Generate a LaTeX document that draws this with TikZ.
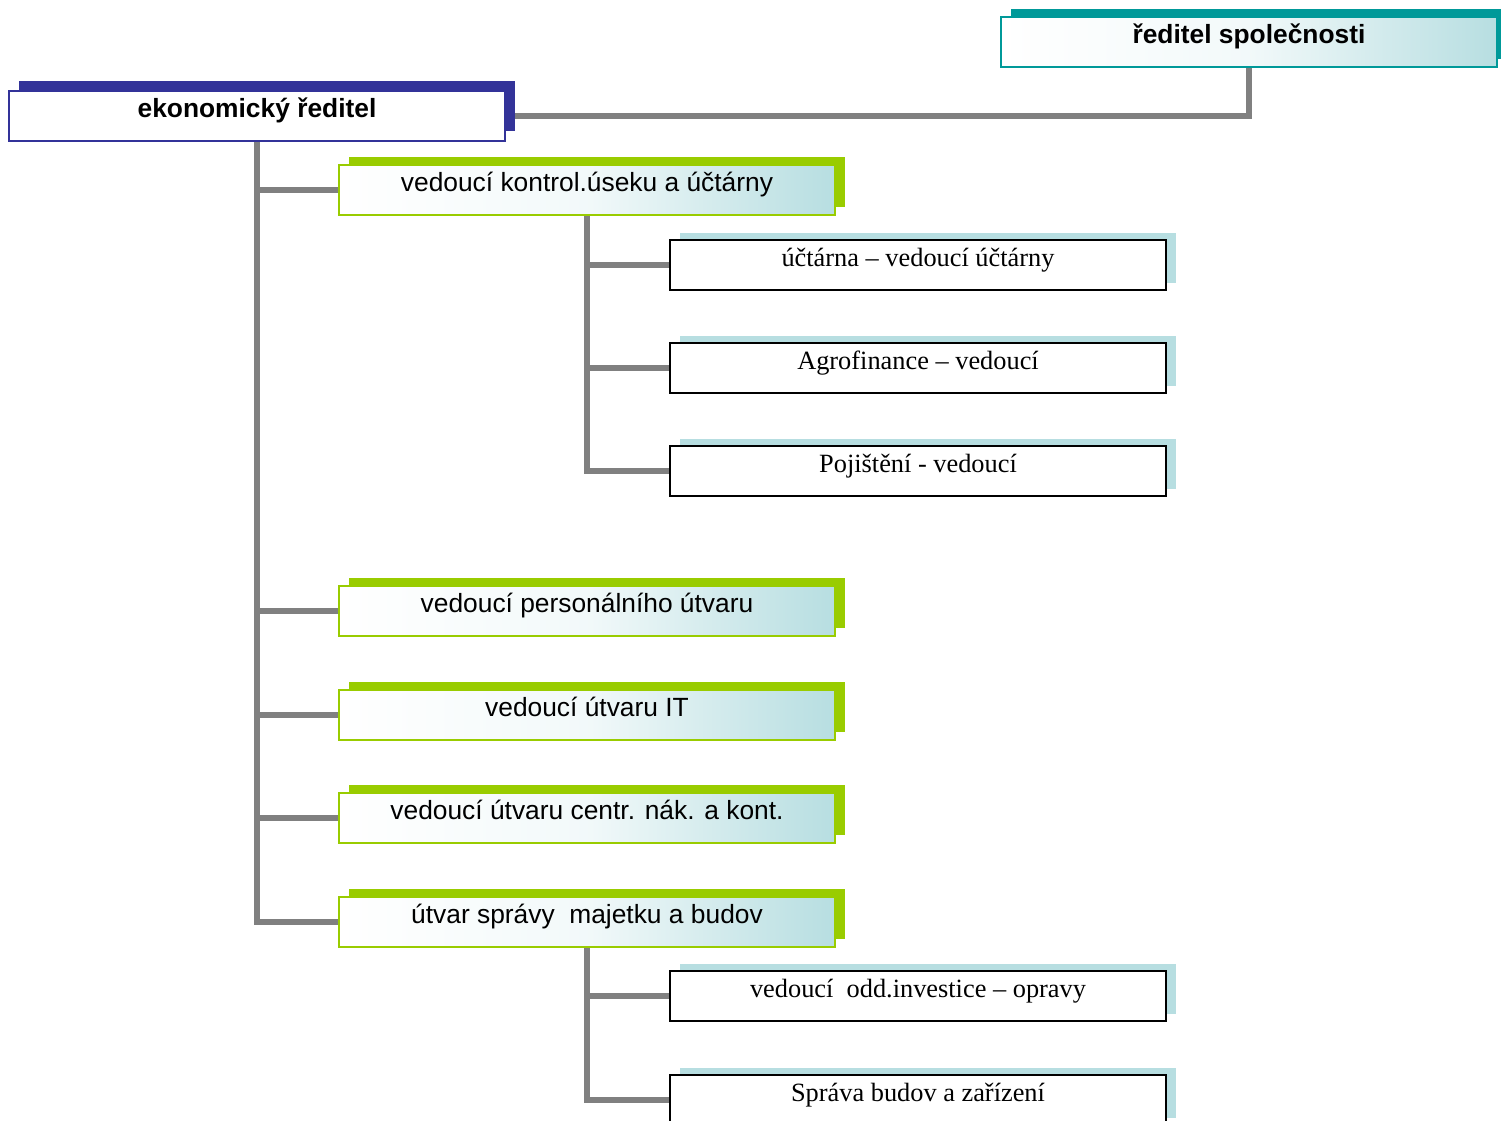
\documentclass[tikz,border=0pt]{standalone}
\usepackage{fontspec}
\setmainfont{Liberation Serif}
\setsansfont{Liberation Sans}
\usetikzlibrary{shadows,backgrounds}
\definecolor{tealc}{RGB}{0,153,153}
\definecolor{navyc}{RGB}{51,51,153}
\definecolor{limec}{RGB}{153,204,0}
\definecolor{paleblue}{RGB}{183,222,225}
\definecolor{linkgray}{RGB}{128,128,128}
\tikzstyle{box}=[rectangle,minimum width=9.92cm,minimum height=1cm,inner sep=0pt,text height=0.75em,text depth=0.62em]
\tikzstyle{boss}=[box,draw=tealc,line width=1pt,left color=white,right color=paleblue,middle color=white!82!paleblue,drop shadow={shadow xshift=0.2cm,shadow yshift=0.16cm,opacity=1,shade=false,fill=tealc},font=\fontsize{15pt}{18pt}\selectfont\sffamily\bfseries]
\tikzstyle{econ}=[box,draw=navyc,line width=1pt,fill=white,drop shadow={shadow xshift=0.2cm,shadow yshift=0.2cm,opacity=1,fill=navyc},font=\fontsize{15pt}{18pt}\selectfont\sffamily\bfseries]
\tikzstyle{dept}=[box,draw=limec,line width=1pt,left color=white,right color=paleblue,middle color=white!82!paleblue,drop shadow={shadow xshift=0.2cm,shadow yshift=0.16cm,opacity=1,shade=false,fill=limec},font=\fontsize{15pt}{18pt}\selectfont\sffamily]
\tikzstyle{unit}=[box,draw=black,line width=1.3pt,fill=white,drop shadow={shadow xshift=0.2cm,shadow yshift=0.14cm,opacity=1,fill=paleblue},font=\fontsize{15pt}{18pt}\selectfont]
\tikzstyle{link}=[draw=linkgray,line width=3.3pt]

\begin{document}
\begin{tikzpicture}[x=0.02cm,y=-0.02cm]
	\useasboundingbox (0,0) rectangle (1501,1120);
	\def \deptx {587};
	\def \unitx {918};

	\node[boss] (boss) at (1249,42) {ředitel společnosti};
	\node[econ] (econ) at (257,116) {ekonomický ředitel};

	\foreach \i/\ypos/\txt in {1/190/vedoucí kontrol.úseku a účtárny,
		2/611/vedoucí personálního útvaru,
		3/715/vedoucí útvaru IT,
		4/818/vedoucí útvaru centr. nák. a kont.,
		5/922/útvar správy~ majetku a budov} {
		\node[dept] (dept\i) at (\deptx,\ypos) {\txt};
	};

	\foreach \i/\ypos/\txt in {1/265/účtárna – vedoucí účtárny,
		2/368/Agrofinance – vedoucí,
		3/471/Pojištění - vedoucí,
		4/996/vedoucí~ odd.investice – opravy,
		5/1100/Správa budov a zařízení} {
		\node[unit] (unit\i) at (\unitx,\ypos) {\txt};
	};

	\begin{scope}[on background layer]
		\draw[link] (boss.south) |- (econ.east);
		\foreach \i in {1,...,5} {
			\draw[link] (econ.south) |- (dept\i.west);
		};
		\foreach \i in {1,...,3} {
			\draw[link] (dept1.south) |- (unit\i.west);
		};
		\foreach \i in {4,5} {
			\draw[link] (dept5.south) |- (unit\i.west);
		};
	\end{scope}
\end{tikzpicture}
\end{document}
